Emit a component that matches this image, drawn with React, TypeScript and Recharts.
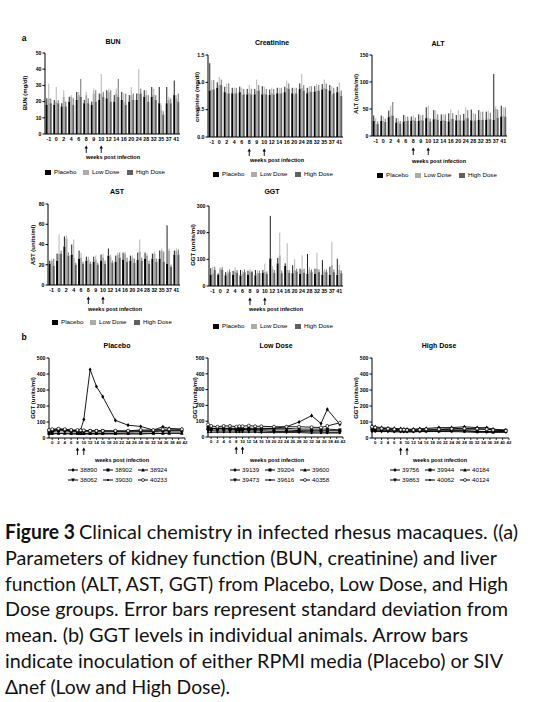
import React from 'react';
import { BarChart, Bar, XAxis, YAxis, ErrorBar, LineChart, Line } from 'recharts';

// ---------- categories ----------
const weeks = ['-1', '0', '2', '4', '6', '8', '9', '10', '12', '14', '16', '20', '24', '28', '32', '35', '37', '41'];
const weekNums = [-1, 0, 2, 4, 6, 8, 9, 10, 12, 14, 16, 20, 24, 28, 32, 35, 37, 41];
const inoculationWeeks = ['8', '10'];
const groupNames = ['Placebo', 'Low Dose', 'High Dose'];

// ---------- BUN ----------
const bunPlacebo = [18, 18, 17, 20, 21, 19, 18, 21, 22, 20, 21, 20, 21, 23, 23, 19, 19, 24];
const bunPlaceboSd = [4, 3, 2, 3, 5, 2, 2, 4, 5, 4, 5, 4, 4, 4, 6, 10, 10, 9];
const bunLow = [22, 20, 23, 23, 24, 24, 25, 25, 26, 25, 20, 24, 25, 24, 24, 15, 21, 22];
const bunLowSd = [9, 9, 4, 1, 2, 2, 3, 12, 2, 3, 5, 5, 15, 3, 4, 3, 2, 2];
const bunHigh = [19, 19, 17, 18, 23, 19, 20, 23, 20, 23, 18, 21, 25, 20, 21, 12, 19, 20];
const bunHighSd = [3, 2, 3, 4, 11, 3, 7, 3, 7, 11, 7, 4, 3, 4, 3, 2, 3, 5];
const bunTicks = [0, 10, 20, 30, 40, 50];

// ---------- Creatinine ----------
const crPlacebo = [0.85, 0.9, 0.82, 0.8, 0.82, 0.78, 0.78, 0.78, 0.77, 0.8, 0.82, 0.8, 0.88, 0.8, 0.83, 0.87, 0.85, 0.82];
const crPlaceboSd = [0.5, 0.1, 0.1, 0.1, 0.1, 0.1, 0.1, 0.15, 0.1, 0.1, 0.1, 0.1, 0.1, 0.1, 0.1, 0.1, 0.1, 0.1];
const crLow = [0.87, 0.95, 0.8, 0.8, 0.78, 0.8, 0.85, 0.8, 0.8, 0.8, 0.9, 0.78, 0.9, 0.83, 0.85, 0.9, 0.78, 0.82];
const crLowSd = [0.17, 0.15, 0.18, 0.1, 0.12, 0.15, 0.2, 0.12, 0.1, 0.1, 0.13, 0.12, 0.25, 0.1, 0.12, 0.15, 0.15, 0.18];
const crHigh = [0.87, 0.95, 0.8, 0.8, 0.78, 0.78, 0.85, 0.78, 0.78, 0.8, 0.88, 0.8, 0.85, 0.83, 0.85, 0.88, 0.8, 0.75];
const crHighSd = [0.17, 0.1, 0.18, 0.1, 0.1, 0.1, 0.1, 0.1, 0.1, 0.1, 0.1, 0.1, 0.1, 0.1, 0.1, 0.1, 0.1, 0.1];
const crTicks = [0, 0.5, 1.0, 1.5];

// ---------- ALT ----------
const altPlacebo = [28, 28, 35, 25, 27, 28, 28, 33, 31, 28, 27, 29, 29, 29, 30, 30, 30, 36];
const altPlaceboSd = [10, 10, 12, 8, 12, 8, 12, 20, 17, 12, 15, 10, 12, 20, 18, 15, 85, 20];
const altLow = [23, 28, 38, 27, 28, 30, 30, 34, 32, 30, 32, 30, 33, 28, 30, 32, 50, 38];
const altLowSd = [10, 8, 18, 6, 8, 8, 8, 22, 15, 10, 17, 18, 20, 15, 15, 15, 5, 15];
const altHigh = [22, 26, 38, 23, 28, 28, 29, 27, 30, 28, 32, 29, 33, 29, 30, 31, 34, 36];
const altHighSd = [5, 6, 25, 5, 8, 6, 10, 5, 10, 12, 10, 10, 15, 12, 15, 12, 15, 17];
const altTicks = [0, 50, 100, 150];

// ---------- AST ----------
const astPlacebo = [21, 24, 38, 30, 26, 24, 23, 24, 29, 23, 25, 24, 25, 26, 26, 26, 21, 30];
const astPlaceboSd = [3, 7, 10, 10, 8, 4, 5, 6, 7, 6, 7, 5, 7, 6, 5, 8, 38, 4];
const astLow = [24, 31, 46, 27, 27, 25, 25, 27, 28, 30, 31, 27, 33, 29, 31, 34, 34, 34];
const astLowSd = [2, 19, 3, 18, 5, 3, 4, 4, 2, 2, 2, 2, 12, 2, 2, 2, 2, 2];
const astHigh = [19, 31, 29, 20, 21, 21, 20, 21, 22, 27, 23, 22, 24, 21, 23, 23, 18, 30];
const astHighSd = [7, 3, 3, 2, 2, 2, 2, 3, 2, 5, 4, 4, 3, 3, 3, 10, 2, 5];
const astTicks = [0, 20, 40, 60, 80];

// ---------- GGT ----------
const ggtPlacebo = [42, 42, 40, 42, 40, 42, 40, 50, 103, 85, 75, 48, 45, 45, 45, 42, 42, 42];
const ggtPlaceboSd = [25, 5, 12, 15, 20, 15, 20, 10, 160, 20, 10, 30, 20, 75, 20, 55, 30, 60];
const ggtLow = [47, 65, 47, 55, 47, 55, 48, 52, 65, 115, 60, 60, 60, 60, 65, 55, 78, 60];
const ggtLowSd = [25, 5, 10, 15, 10, 10, 10, 32, 10, 85, 100, 40, 55, 10, 60, 10, 88, 20];
const ggtHigh = [60, 60, 52, 50, 52, 52, 48, 45, 50, 48, 50, 55, 50, 52, 52, 52, 52, 48];
const ggtHighSd = [12, 10, 10, 10, 10, 5, 10, 10, 10, 10, 10, 10, 15, 10, 10, 10, 10, 10];
const ggtTicks = [0, 100, 200, 300];

// ---------- GGT individual animals (b) ----------
const lineTicks = [0, 100, 200, 300, 400, 500];
const lineWeekTicks = [0, 2, 4, 6, 8, 10, 12, 14, 16, 18, 20, 22, 24, 26, 28, 30, 32, 34, 36, 38, 40, 42];

const placeboIds = ['38890', '38902', '38924', '38062', '39030', '40233'];
const plc38890 = [40, 45, 50, 48, 45, 42, 50, 115, 428, 322, 258, 110, 80, 72, 50, 70, 60, 55];
const plc38902 = [35, 40, 45, 45, 40, 38, 40, 40, 38, 38, 38, 38, 38, 40, 40, 45, 45, 45];
const plc38924 = [30, 30, 30, 30, 30, 28, 28, 28, 28, 28, 28, 28, 30, 30, 30, 30, 30, 30];
const plc38062 = [45, 50, 55, 52, 48, 45, 45, 45, 45, 45, 45, 42, 42, 45, 45, 45, 45, 45];
const plc39030 = [25, 25, 28, 28, 25, 25, 25, 25, 25, 25, 25, 25, 25, 25, 28, 28, 30, 30];
const plc40233 = [50, 55, 58, 55, 50, 50, 48, 48, 45, 45, 45, 45, 45, 50, 50, 55, 55, 55];

const lowIds = ['39139', '39204', '39600', '39473', '39616', '40358'];
const low39139 = [50, 50, 55, 55, 50, 50, 50, 50, 50, 50, 50, 55, 65, 95, 135, 85, 175, 80];
const low39204 = [60, 55, 55, 55, 55, 55, 55, 55, 55, 55, 55, 55, 55, 50, 50, 50, 50, 45];
const low39600 = [55, 52, 50, 50, 50, 48, 48, 48, 48, 45, 45, 45, 45, 40, 40, 40, 40, 40];
const low39473 = [40, 40, 38, 38, 38, 38, 38, 38, 38, 38, 38, 35, 35, 35, 32, 32, 30, 30];
const low39616 = [30, 30, 30, 30, 30, 30, 30, 30, 30, 30, 28, 28, 28, 28, 25, 25, 25, 25];
const low40358 = [80, 70, 65, 70, 70, 65, 68, 68, 72, 68, 68, 65, 65, 65, 62, 60, 70, 90];

const highIds = ['39756', '39944', '40184', '39863', '40062', '40124'];
const high39756 = [75, 70, 65, 62, 60, 58, 55, 55, 55, 58, 60, 65, 65, 70, 65, 65, 55, 50];
const high39944 = [60, 58, 55, 55, 52, 50, 50, 50, 50, 50, 50, 52, 55, 55, 55, 55, 50, 48];
const high40184 = [50, 50, 48, 48, 48, 45, 45, 45, 45, 45, 45, 45, 45, 45, 40, 40, 38, 40];
const high39863 = [45, 45, 42, 42, 42, 42, 40, 40, 40, 42, 42, 42, 45, 45, 42, 40, 40, 42];
const high40062 = [40, 40, 40, 40, 38, 38, 38, 38, 38, 40, 40, 40, 40, 38, 35, 35, 35, 35];
const high40124 = [70, 65, 60, 58, 55, 52, 52, 50, 50, 52, 55, 55, 58, 60, 58, 55, 50, 45];

// ---------- caption ----------
const captionBold = 'Figure 3';
const captionLines = [
  'Clinical chemistry in infected rhesus macaques. ((a)',
  'Parameters of kidney function (BUN, creatinine) and liver',
  'function (ALT, AST, GGT) from Placebo, Low Dose, and High',
  'Dose groups. Error bars represent standard deviation from',
  'mean. (b) GGT levels in individual animals. Arrow bars',
  'indicate inoculation of either RPMI media (Placebo) or SIV',
  '\u0394nef (Low and High Dose).',
];

// ---------- styling ----------
const FONT = '"Liberation Sans", Arial, sans-serif';
const C_P = '#050505';
const C_L = '#ababab';
const C_H = '#606060';

function buildBarData(p: number[], ps: number[], l: number[], ls: number[], h: number[], hs: number[]) {
  return weeks.map((w, i) => ({
    week: w,
    p: p[i], l: l[i], h: h[i],
    pe: [0, ps[i]], le: [0, ls[i]], he: [0, hs[i]],
  }));
}

function buildLineData(series: number[][]) {
  return weekNums.map((w, i) => {
    const row: any = { week: w };
    series.forEach((s, k) => { row['s' + k] = s[i]; });
    return row;
  });
}

const ArrowTick = (props: any) => {
  const { x, y, payload, arrows, off, fs } = props;
  const v = String(payload.value);
  const has = arrows.includes(v);
  const o = off ?? 9;
  return (
    <g>
      <text x={x} y={y} dy="0.71em" textAnchor="middle" fontSize={fs ?? 5.5} fontWeight="bold" fontFamily={FONT} fill="#000">{v}</text>
      {has && (
        <g>
          <line x1={x} y1={y + o + 1.5} x2={x} y2={y + o + 7} stroke="#000" strokeWidth={0.9} />
          <path d={`M${x - 1.7},${y + o + 2.6} L${x},${y + o - 0.5} L${x + 1.7},${y + o + 2.6} Z`} fill="#000" />
        </g>
      )}
    </g>
  );
};

const YTick = (props: any) => {
  const { x, y, payload, fmt } = props;
  return (
    <text x={x} y={y} dy="0.35em" textAnchor="end" fontSize={5.2} fontWeight="bold" fontFamily={FONT} fill="#000">
      {fmt ? fmt(payload.value) : payload.value}
    </text>
  );
};

const Txt = ({ x, y, size, bold, rotate, children }: any) => (
  <div
    style={{
      position: 'absolute', left: x, top: y, whiteSpace: 'nowrap', fontFamily: FONT,
      fontSize: size, fontWeight: bold ? 'bold' : 'normal', lineHeight: 1, color: '#000',
      transform: `translate(-50%, -50%)${rotate ? ' rotate(-90deg)' : ''}`,
    }}
  >
    {children}
  </div>
);

function BarPanel({ box, data, domain, ticks, fmt }: any) {
  const [x1, y1, x2, y2] = box;
  const ml = 30, mt = 8, mr = 4, xh = 26;
  const width = x2 - x1 + ml + mr;
  const height = y2 - y1 + mt + xh;
  return (
    <div style={{ position: 'absolute', left: x1 - ml, top: y1 - mt }}>
      <BarChart width={width} height={height} data={data} margin={{ top: mt, right: mr, left: 0, bottom: 0 }} barGap={0} barCategoryGap="10%">
        <XAxis dataKey="week" height={xh} interval={0} tickLine={false} tickSize={2} tickMargin={1}
          axisLine={{ stroke: '#000', strokeWidth: 1 }} tick={<ArrowTick arrows={inoculationWeeks} off={9} fs={5.3} />} />
        <YAxis width={ml} domain={domain} ticks={ticks} interval={0} allowDataOverflow tickSize={2.5} tickMargin={1}
          axisLine={{ stroke: '#000', strokeWidth: 1 }} tickLine={{ stroke: '#000', strokeWidth: 1 }} tick={<YTick fmt={fmt} />} />
        <Bar dataKey="p" fill={C_P} isAnimationActive={false}>
          <ErrorBar dataKey="pe" width={0} stroke={C_P} strokeWidth={0.9} direction="y" />
        </Bar>
        <Bar dataKey="l" fill={C_L} isAnimationActive={false}>
          <ErrorBar dataKey="le" width={0} stroke={C_L} strokeWidth={0.9} direction="y" />
        </Bar>
        <Bar dataKey="h" fill={C_H} isAnimationActive={false}>
          <ErrorBar dataKey="he" width={0} stroke={C_H} strokeWidth={0.9} direction="y" />
        </Bar>
      </BarChart>
    </div>
  );
}

function BarLegend({ x, y }: any) {
  const cols = [C_P, C_L, C_H];
  const offs = [0, 38, 82];
  return (
    <>
      {groupNames.map((g, i) => (
        <React.Fragment key={g}>
          <div style={{ position: 'absolute', left: x + offs[i], top: y - 2.5, width: 6, height: 5, background: cols[i] }} />
          <div style={{ position: 'absolute', left: x + offs[i] + 9, top: y - 3.5, fontFamily: FONT, fontSize: 6.2, lineHeight: 1, whiteSpace: 'nowrap' }}>{g}</div>
        </React.Fragment>
      ))}
    </>
  );
}

const Marker = ({ cx, cy, shape }: any) => {
  const r = 1.5;
  switch (shape) {
    case 0: return <path d={`M${cx},${cy - r - 0.6} L${cx + r},${cy} L${cx},${cy + r + 0.6} L${cx - r},${cy} Z`} fill="#000" />;
    case 1: return <rect x={cx - r} y={cy - r} width={2 * r} height={2 * r} fill="#000" />;
    case 2: return <path d={`M${cx},${cy - r - 0.4} L${cx + r + 0.3},${cy + r} L${cx - r - 0.3},${cy + r} Z`} fill="#000" />;
    case 3: return <path d={`M${cx},${cy + r + 0.4} L${cx + r + 0.3},${cy - r} L${cx - r - 0.3},${cy - r} Z`} fill="#000" />;
    case 4: return <circle cx={cx} cy={cy} r={1.1} fill="#000" />;
    default: return <circle cx={cx} cy={cy} r={1.5} fill="#fff" stroke="#000" strokeWidth={0.7} />;
  }
};

function LinePanel({ box, data, n }: any) {
  const [x1, y1, x2, y2] = box;
  const ml = 30, mt = 8, mr = 6, xh = 26;
  const width = x2 - x1 + ml + mr;
  const height = y2 - y1 + mt + xh;
  const keys = Array.from({ length: n }, (_, k) => 's' + k);
  return (
    <div style={{ position: 'absolute', left: x1 - ml, top: y1 - mt }}>
      <LineChart width={width} height={height} data={data} margin={{ top: mt, right: mr, left: 0, bottom: 0 }}>
        <XAxis dataKey="week" type="number" domain={[-1, 42]} ticks={lineWeekTicks} interval={0} height={xh}
          tickSize={2} tickMargin={1} axisLine={{ stroke: '#000', strokeWidth: 1 }} tickLine={{ stroke: '#000', strokeWidth: 0.8 }}
          tick={<ArrowTick arrows={inoculationWeeks} off={7} fs={4.3} />} />
        <YAxis width={ml} domain={[0, 500]} ticks={lineTicks} interval={0} allowDataOverflow tickSize={2.5} tickMargin={1}
          axisLine={{ stroke: '#000', strokeWidth: 1 }} tickLine={{ stroke: '#000', strokeWidth: 1 }} tick={<YTick />} />
        {keys.map((k, i) => (
          <Line key={k} dataKey={k} type="linear" stroke="#000" strokeWidth={0.9} isAnimationActive={false}
            dot={(p: any) => <Marker key={`${k}-${p.index}`} cx={p.cx} cy={p.cy} shape={i} />} />
        ))}
      </LineChart>
    </div>
  );
}

function LineLegend({ x, y, ids }: any) {
  return (
    <>
      {ids.map((id: string, i: number) => {
        const col = i % 3, row = Math.floor(i / 3);
        const mx = x + col * 35, my = y + row * 10;
        return (
          <React.Fragment key={id}>
            <svg style={{ position: 'absolute', left: mx - 5, top: my - 4 }} width={10} height={8}>
              <line x1={0} y1={4} x2={10} y2={4} stroke="#000" strokeWidth={1} />
              <Marker cx={5} cy={4} shape={i} />
            </svg>
            <div style={{ position: 'absolute', left: mx + 7, top: my - 3.3, fontFamily: FONT, fontSize: 6.2, lineHeight: 1, whiteSpace: 'nowrap' }}>{id}</div>
          </React.Fragment>
        );
      })}
    </>
  );
}

export default function App() {
  const bun = buildBarData(bunPlacebo, bunPlaceboSd, bunLow, bunLowSd, bunHigh, bunHighSd);
  const cr = buildBarData(crPlacebo, crPlaceboSd, crLow, crLowSd, crHigh, crHighSd);
  const alt = buildBarData(altPlacebo, altPlaceboSd, altLow, altLowSd, altHigh, altHighSd);
  const ast = buildBarData(astPlacebo, astPlaceboSd, astLow, astLowSd, astHigh, astHighSd);
  const ggt = buildBarData(ggtPlacebo, ggtPlaceboSd, ggtLow, ggtLowSd, ggtHigh, ggtHighSd);
  const plc = buildLineData([plc38890, plc38902, plc38924, plc38062, plc39030, plc40233]);
  const low = buildLineData([low39139, low39204, low39600, low39473, low39616, low40358]);
  const high = buildLineData([high39756, high39944, high40184, high39863, high40062, high40124]);
  const baselines = [39, 65, 91, 116, 142, 168, 194];
  const lens = [439, 492, 503, 503, 463, 498, 225];

  return (
    <div style={{ position: 'absolute', left: 0, top: 0, width: 534, height: 702, background: '#fff', overflow: 'hidden' }}>
      <Txt x={24} y={38} size={8.5} bold>a</Txt>
      <Txt x={24} y={337} size={8.5} bold>b</Txt>

      {/* BUN */}
      <Txt x={113} y={41} size={7} bold>BUN</Txt>
      <Txt x={25} y={93} size={6} bold rotate>BUN (mg/dl)</Txt>
      <BarPanel box={[45, 53, 180, 134]} data={bun} domain={[0, 50]} ticks={bunTicks} />
      <Txt x={113} y={158} size={5.5} bold>weeks post infection</Txt>
      <BarLegend x={45} y={172} />

      {/* Creatinine */}
      <Txt x={272} y={42} size={7} bold>Creatinine</Txt>
      <Txt x={197} y={97} size={6} bold rotate>creatinine (mg/dl)</Txt>
      <BarPanel box={[208, 55, 343, 137]} data={cr} domain={[0, 1.5]} ticks={crTicks} fmt={(v: number) => v.toFixed(1)} />
      <Txt x={277} y={161} size={5.5} bold>weeks post infection</Txt>
      <BarLegend x={213} y={174} />

      {/* ALT */}
      <Txt x={438} y={43} size={7} bold>ALT</Txt>
      <Txt x={356} y={94} size={6} bold rotate>ALT (units/ml)</Txt>
      <BarPanel box={[372, 55, 507, 136]} data={alt} domain={[0, 150]} ticks={altTicks} />
      <Txt x={439} y={162} size={5.5} bold>weeks post infection</Txt>
      <BarLegend x={377} y={175} />

      {/* AST */}
      <Txt x={117} y={191} size={7} bold>AST</Txt>
      <Txt x={33} y={245} size={6} bold rotate>AST (units/ml)</Txt>
      <BarPanel box={[48, 204, 180, 285]} data={ast} domain={[0, 80]} ticks={astTicks} />
      <Txt x={115} y={310} size={5.5} bold>weeks post infection</Txt>
      <BarLegend x={52} y={322} />

      {/* GGT */}
      <Txt x={272} y={191} size={7} bold>GGT</Txt>
      <Txt x={193} y={245} size={6} bold rotate>GGT (units/ml)</Txt>
      <BarPanel box={[209, 206, 343, 286]} data={ggt} domain={[0, 300]} ticks={ggtTicks} />
      <Txt x={276} y={310} size={5.5} bold>weeks post infection</Txt>
      <BarLegend x={213} y={326} />

      {/* Placebo lines */}
      <Txt x={117} y={345} size={7} bold>Placebo</Txt>
      <Txt x={33} y={398} size={6} bold rotate>GGT (units/ml)</Txt>
      <LinePanel box={[49, 358, 185, 438]} data={plc} n={6} />
      <Txt x={122} y={461} size={5.5} bold>weeks post infection</Txt>
      <LineLegend x={73} y={470} ids={placeboIds} />

      {/* Low dose lines */}
      <Txt x={276} y={345} size={7} bold>Low Dose</Txt>
      <Txt x={195} y={398} size={6} bold rotate>GGT (units/ml)</Txt>
      <LinePanel box={[208, 358, 343, 437]} data={low} n={6} />
      <Txt x={277} y={461} size={5.5} bold>weeks post infection</Txt>
      <LineLegend x={235} y={470} ids={lowIds} />

      {/* High dose lines */}
      <Txt x={439} y={345} size={7} bold>High Dose</Txt>
      <Txt x={356} y={398} size={6} bold rotate>GGT (units/ml)</Txt>
      <LinePanel box={[372, 358, 509, 438]} data={high} n={6} />
      <Txt x={440} y={461} size={5.5} bold>weeks post infection</Txt>
      <LineLegend x={395} y={470} ids={highIds} />

      {/* caption */}
      <svg style={{ position: 'absolute', left: 0, top: 500 }} width={534} height={202}>
        <text x={5} y={baselines[0]} fontFamily="Lato, 'Open Sans', sans-serif" fontSize={20} fontWeight="bold" fill="#111"
          textLength={70} lengthAdjust="spacingAndGlyphs">{captionBold}</text>
        {captionLines.map((t, i) => (
          <text key={i} x={i === 0 ? 79 : 5} y={baselines[i]} fontFamily="Lato, 'Open Sans', sans-serif" fontSize={20} fill="#111"
            textLength={lens[i]} lengthAdjust="spacingAndGlyphs">{t}</text>
        ))}
      </svg>
    </div>
  );
}
